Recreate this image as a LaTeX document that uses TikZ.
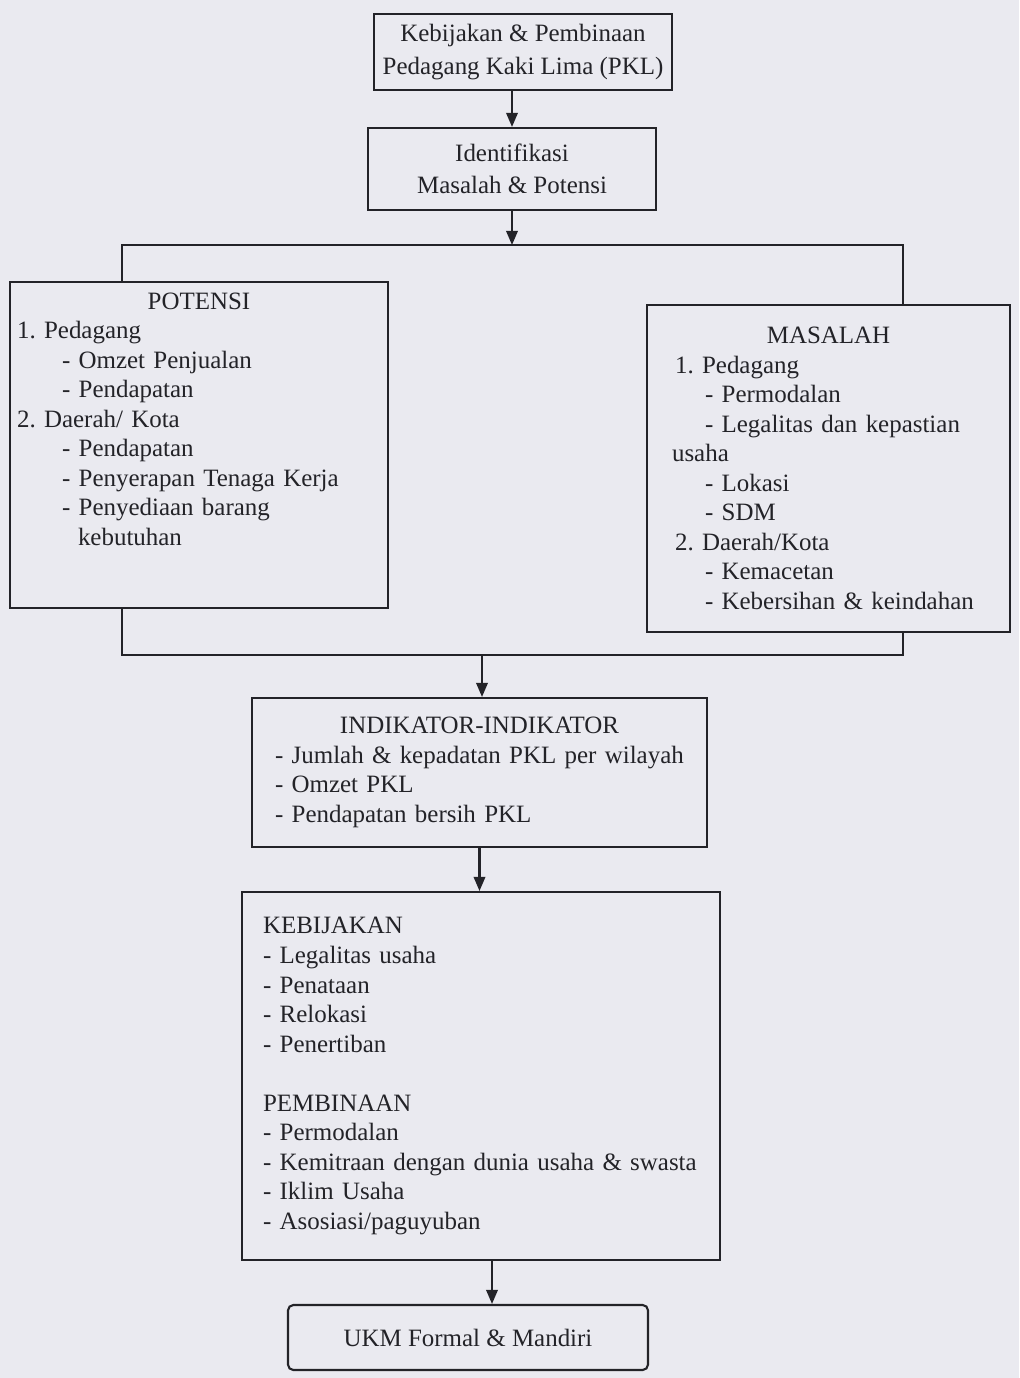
\documentclass[tikz,border=0pt]{standalone}
\usepackage{fontspec}
\setmainfont{Liberation Serif}
\usetikzlibrary{arrows.meta}

\definecolor{kertas}{RGB}{234,234,240}
\definecolor{tinta}{RGB}{35,35,40}

\begin{document}
\begin{tikzpicture}[x=0.02cm, y=-0.02cm,
    kotak/.style={draw=tinta, line width=1.2pt, text=tinta,
      font=\fontsize{14.2}{16.8}\selectfont\frenchspacing, inner ysep=4pt},
    daftar/.style={kotak, align=left},
    panah/.style={draw=tinta, line width=1.2pt, -{Triangle[length=8pt,width=6.5pt]}},
    garis/.style={draw=tinta, line width=1.2pt}]
  \useasboundingbox[fill=kertas] (0,0) rectangle (1019,1378);

  % Top boxes
  \node[kotak, align=center, minimum width=5.96cm, minimum height=1.52cm,
      font=\fontsize{14.2}{18.5}\selectfont]
    (judul) at (523,52)
    {Kebijakan \& Pembinaan\\Pedagang Kaki Lima (PKL)};
  \node[kotak, align=center, minimum width=5.76cm, minimum height=1.64cm,
      font=\fontsize{14.2}{18}\selectfont]
    (identifikasi) at (512,169)
    {Identifikasi\\Masalah \& Potensi};

  % Potensi
  \node[daftar, inner xsep=0.14cm, text width=7.28cm, minimum height=6.52cm]
    (potensi) at (199,445)
    {\hfill POTENSI\hfill\mbox{}\\
     1. Pedagang\\
     \hspace*{0.9cm}- Omzet Penjualan\\
     \hspace*{0.9cm}- Pendapatan\\
     2. Daerah/ Kota\\
     \hspace*{0.9cm}- Pendapatan\\
     \hspace*{0.9cm}\mbox{- Penyerapan Tenaga Kerja}\\
     \hspace*{0.9cm}- Penyediaan barang\\
     \hspace*{1.22cm}kebutuhan\\[13pt]\mbox{}};

  % Masalah
  \node[daftar, inner xsep=0.56cm, text width=6.14cm, minimum height=6.54cm]
    (masalah) at (828.5,468.5)
    {\hfill MASALAH\hfill\mbox{}\\
     1. Pedagang\\
     \hspace*{0.6cm}- Permodalan\\
     \hspace*{0.6cm}\mbox{- Legalitas dan kepastian}\\
     \hspace*{-0.06cm}usaha\\
     \hspace*{0.6cm}- Lokasi\\
     \hspace*{0.6cm}- SDM\\
     2. Daerah/Kota\\
     \hspace*{0.6cm}- Kemacetan\\
     \hspace*{0.6cm}\mbox{- Kebersihan \& keindahan}};

  % Indikator
  \node[daftar, inner xsep=0.46cm, text width=8.18cm, minimum height=2.98cm]
    (indikator) at (479.5,772.5)
    {\hfill INDIKATOR-INDIKATOR\hfill\mbox{}\\
     \mbox{- Jumlah \& kepadatan PKL per wilayah}\\
     - Omzet PKL\\
     - Pendapatan bersih PKL};

  % Kebijakan dan pembinaan
  \node[daftar, inner xsep=0.42cm, text width=8.72cm, minimum height=7.36cm]
    (kebijakan) at (481,1076)
    {KEBIJAKAN\\
     - Legalitas usaha\\
     - Penataan\\
     - Relokasi\\
     - Penertiban\\[16.8pt]
     PEMBINAAN\\
     - Permodalan\\
     \mbox{- Kemitraan dengan dunia usaha \& swasta}\\
     - Iklim Usaha\\
     - Asosiasi/paguyuban};

  % Result
  \node[kotak, rounded corners=3pt, minimum width=7.2cm, minimum height=1.3cm]
    (ukm) at (468,1337.5) {UKM Formal \& Mandiri};

  % Connectors
  \coordinate (cabang) at (512,245);
  \coordinate (kiri) at (122,245);
  \coordinate (kanan) at (903,245);
  \coordinate (kiribawah) at (122,655);
  \coordinate (kananbawah) at (903,655);
  \coordinate (gabung) at (482,655);
  \coordinate (turun) at ([xshift=0.22cm]kebijakan.south);

  \draw[panah] (judul.south -| identifikasi.north) -- (identifikasi.north);
  \draw[panah] (identifikasi.south) -- (cabang);
  \draw[garis] (potensi.north -| kiri) -- (kiri) -- (kanan) -- (masalah.north -| kanan);
  \draw[garis] (potensi.south -| kiribawah) -- (kiribawah) -- (kananbawah)
    -- (masalah.south -| kananbawah);
  \draw[panah] (gabung) -- (indikator.north -| gabung);
  \draw[panah] (indikator.south) -- (indikator.south |- kebijakan.north);
  \draw[panah] (turun) -- (turun |- ukm.north);
\end{tikzpicture}
\end{document}
